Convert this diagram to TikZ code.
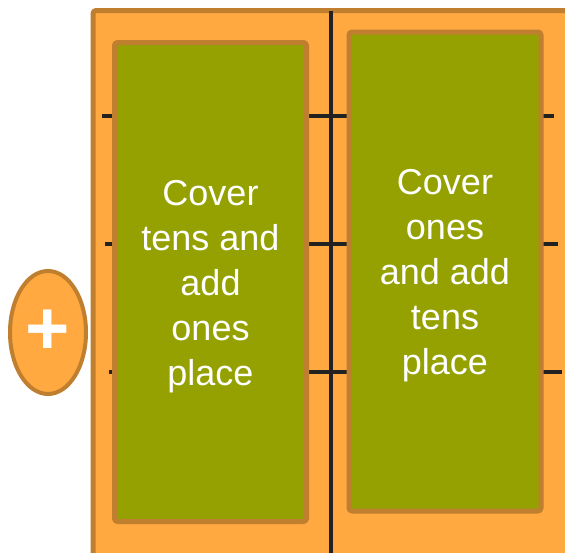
\documentclass[tikz,border=0pt]{standalone}
\usepackage{fontspec}
\setmainfont{Liberation Sans}
\usetikzlibrary{shapes.geometric}
\definecolor{boardfill}{HTML}{FFA940}
\definecolor{boardline}{HTML}{BF7F2F}
\definecolor{panfill}{HTML}{94A100}
\definecolor{beam}{HTML}{222222}
\begin{document}
\begin{tikzpicture}[x=1pt, y=-1pt, line join=round,
  pan/.style = {draw=boardline, fill=panfill, line width=5pt, rounded corners=3pt, minimum width=192pt, minimum height=479pt, inner sep=0pt},
  pantext/.style = {text=white, align=center, inner sep=0pt, yshift=-4.5pt, font=\fontsize{36}{45}\selectfont},
  beamline/.style = {draw=beam, line width=4pt},
  sign/.style = {draw=boardline, fill=boardfill, line width=4pt, ellipse, minimum width=76pt, minimum height=123pt, inner sep=0pt}]
\useasboundingbox (0,0) rectangle (565,552);
\draw[draw=boardline, fill=boardfill, line width=5pt, rounded corners=3pt] (93,10.5) rectangle (590,580);
\draw[beamline] (102,116) -- (554,116);
\draw[beamline] (105,243.5) -- (558,243.5);
\draw[beamline] (109,372) -- (562,372);
\draw[beamline] (331,10.5) -- (331,570);
\node[pan] (tens) at (210.5,282) {};
\node[pantext] (tenstext) at (tens.center) {Cover\\tens and\\add\\ones\\place};
\node[pan] (ones) at (445,271.5) {};
\node[pantext] (onestext) at (ones.center) {Cover\\ones\\and add\\tens\\place};
\node[sign] (plus) at (48,332.5) {};
\node[text=white, font=\fontsize{76}{76}\bfseries\selectfont, inner sep=0pt] (plussign) at (plus.center) {+};
\end{tikzpicture}
\end{document}
